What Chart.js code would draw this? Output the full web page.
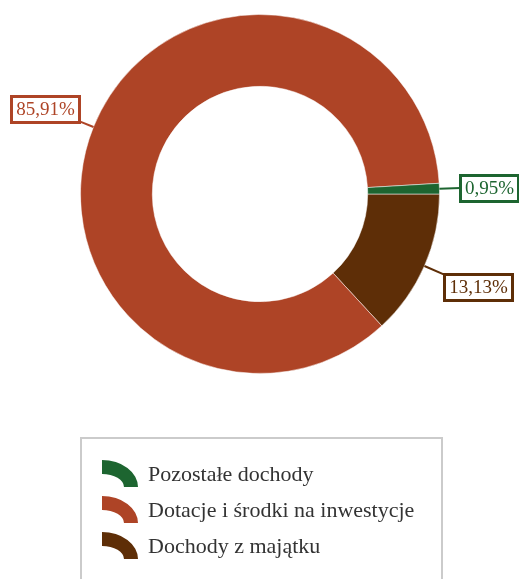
<!DOCTYPE html>
<html>
<head>
<meta charset="utf-8">
<script src="https://cdn.jsdelivr.net/npm/chart.js@4"></script>
<style>
  html, body { margin: 0; padding: 0; background: #fff; overflow: hidden; }
  #wrap { position: relative; width: 519px; height: 579px; }
  #chartBox { position: absolute; left: 0; top: 0; width: 519px; height: 420px; }
  #legend {
    position: absolute; left: 80px; top: 437px; width: 363px; height: 160px;
    box-sizing: border-box; border: 2px solid #cbcbcb; padding: 17px 0 0 20px;
    font-family: "Liberation Serif", serif; font-size: 22px; color: #333;
  }
  .row { display: flex; align-items: center; height: 36px; }
  .row canvas { margin-right: 10px; }
</style>
</head>
<body>
<div id="wrap">
  <div id="chartBox"><canvas id="donut"></canvas></div>
  <div id="legend"></div>
</div>
<script>
// legend order
const categories = ["Pozostałe dochody", "Dotacje i środki na inwestycje", "Dochody z majątku"];
const shares = [0.95, 85.91, 13.13];
const valueLabels = ["0,95%", "85,91%", "13,13%"];
const colors = ["#1d6530", "#ae4426", "#5e2e07"];

// the original runs counter-clockwise from 3 o'clock, so feed Chart.js the reversed order
const rev = (a) => a.slice().reverse();

const labelPlugin = {
  id: "boxLabels",
  afterDatasetsDraw(chart) {
    const ctx = chart.ctx;
    const meta = chart.getDatasetMeta(0);
    const texts = rev(valueLabels);
    const cols = rev(colors);
    ctx.save();
    ctx.font = "19px 'Liberation Serif', serif";
    meta.data.forEach(function (arc, i) {
      const mid = (arc.startAngle + arc.endAngle) / 2;
      const cos = Math.cos(mid), sin = Math.sin(mid);
      const r = arc.outerRadius;
      const len = cos < 0 ? 15 : 21;
      const x0 = arc.x + r * cos, y0 = arc.y + r * sin;
      const x1 = arc.x + (r + len) * cos, y1 = arc.y + (r + len) * sin;
      ctx.strokeStyle = cols[i];
      ctx.lineWidth = 2;
      ctx.beginPath();
      ctx.moveTo(x0, y0);
      ctx.lineTo(x1, y1);
      ctx.stroke();

      const w = Math.round(ctx.measureText(texts[i]).width + 10);
      const h = 27;
      const bx = Math.round(cos >= 0 ? x1 : x1 - w);
      let by;
      if (sin < -0.2) by = y1 - h + 2;
      else if (sin > 0.2) by = y1;
      else by = y1 - h / 2;
      by = Math.round(by);
      ctx.fillStyle = "#fff";
      ctx.fillRect(bx, by, w, h);
      ctx.lineWidth = 3;
      ctx.strokeRect(bx + 0.5, by + 0.5, w - 1, h - 1);
      ctx.fillStyle = cols[i];
      ctx.textAlign = "center";
      ctx.textBaseline = "middle";
      ctx.fillText(texts[i], bx + w / 2, by + h / 2 + 1);
    });
    ctx.restore();
  },
};

new Chart(document.getElementById("donut"), {
  type: "doughnut",
  data: {
    labels: rev(categories),
    datasets: [{
      data: rev(shares),
      backgroundColor: rev(colors),
      borderColor: "rgba(255,255,255,0.5)",
      borderWidth: 1,
    }],
  },
  options: {
    responsive: true,
    maintainAspectRatio: false,
    animation: false,
    rotation: 90,
    cutout: "60%",
    layout: { padding: { left: 80, right: 79, top: 14, bottom: 46 } },
    plugins: {
      legend: { display: false },
      tooltip: { enabled: false },
    },
  },
  plugins: [labelPlugin],
});

// html legend with the little arc icons
const legend = document.getElementById("legend");
categories.forEach(function (name, i) {
  const row = document.createElement("div");
  row.className = "row";
  const icon = document.createElement("canvas");
  icon.width = 36;
  icon.height = 28;
  const c = icon.getContext("2d");
  c.fillStyle = colors[i];
  c.beginPath();
  c.ellipse(0, 27, 36, 27, 0, -Math.PI / 2, 0);
  c.ellipse(0, 27, 22, 13, 0, 0, -Math.PI / 2, true);
  c.closePath();
  c.fill();
  const span = document.createElement("span");
  span.textContent = name;
  row.appendChild(icon);
  row.appendChild(span);
  legend.appendChild(row);
});
</script>
</body>
</html>
